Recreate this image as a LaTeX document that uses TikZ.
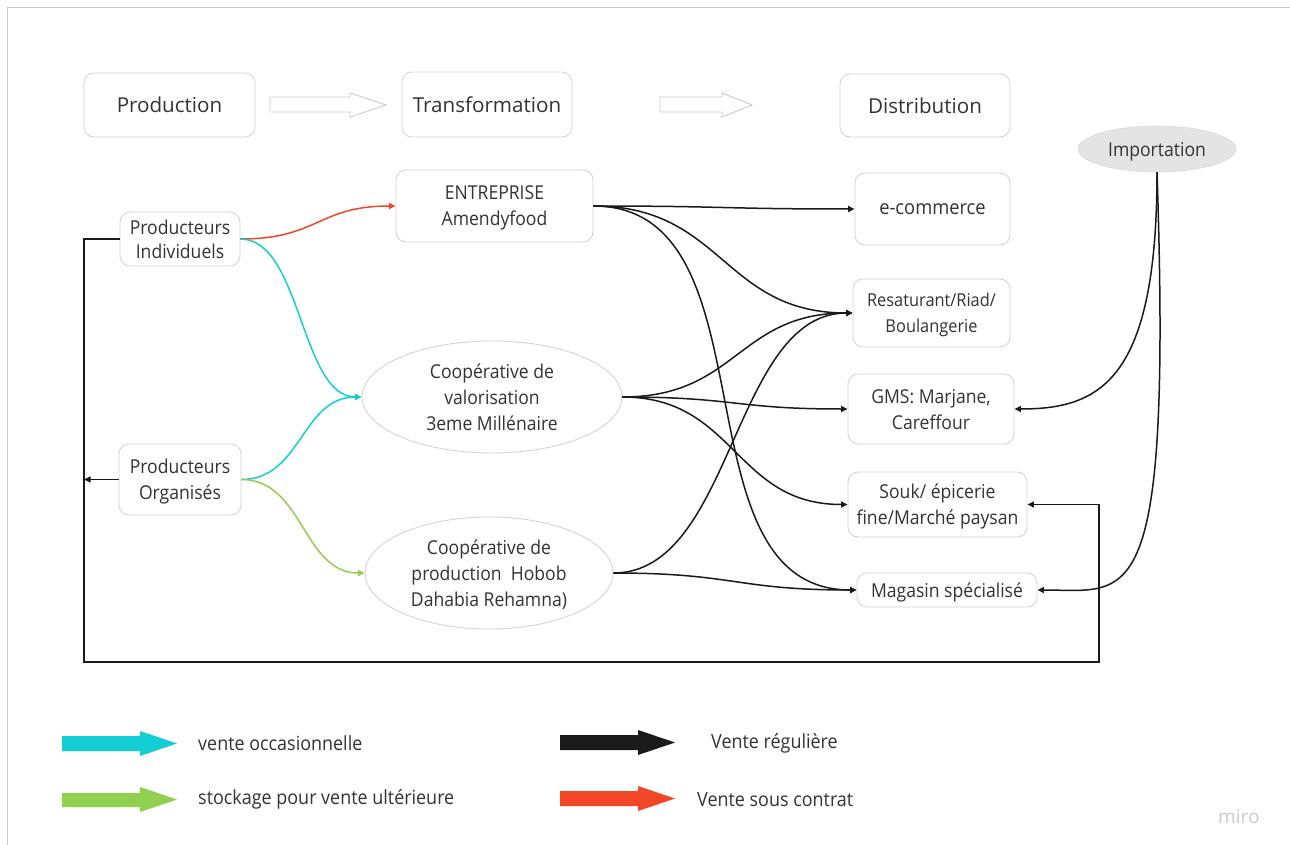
\documentclass[tikz,border=0pt]{standalone}
\usepackage{fontspec}
\setmainfont{Open Sans}
\newfontfamily\nodefont[FakeStretch=0.92]{Open Sans}
\usetikzlibrary{arrows.meta,shapes.geometric}
\definecolor{txt}{HTML}{333333}
\definecolor{bd}{HTML}{D4D4D4}
\definecolor{lk}{HTML}{1A1A1A}
\definecolor{ccyan}{HTML}{12CDD4}
\definecolor{cgreen}{HTML}{8FD14F}
\definecolor{cred}{HTML}{F24726}
\definecolor{cblack}{HTML}{1A1A1A}
\definecolor{frame}{HTML}{CACACA}
\definecolor{impfill}{HTML}{E4E4E4}
\begin{document}
\begin{tikzpicture}[x=1pt,y=-1pt,
  box/.style={draw=bd, line width=0.9pt, rounded corners=10pt, fill=white, text=txt, align=center, inner sep=0pt, text depth=0pt},
  oval/.style={ellipse, draw=bd, line width=0.9pt, fill=white, text=txt, align=center, inner sep=0pt, text depth=0pt},
  fA/.style={font=\nodefont\fontsize{19.1}{26}\selectfont},
  fH/.style={font=\fontsize{20.6}{26}\selectfont},
  conn/.style={draw=lk, line width=1.5pt, -{Triangle[length=6.5pt,width=6pt]}},
  hollow/.style={draw=frame, line width=0.9pt, fill=white},
  legtxt/.style={anchor=west, text=txt, inner sep=0pt, font=\nodefont\fontsize{19.5}{22}\selectfont}]
\useasboundingbox (0,0) rectangle (1290,845);
\fill[white] (0,0) rectangle (1290,845);
\draw[frame, line width=1pt] (7,845) -- (7,8) -- (1290,8);

% header
\node[box, fH, minimum width=171pt, minimum height=64pt] (hprod) at (169.5,105) {Production};
\node[box, fH, minimum width=170pt, minimum height=65pt] (htrans) at (487,104.5) {Transformation};
\node[box, fH, minimum width=170pt, minimum height=63pt] (hdist) at (925,105.5) {Distribution};
\draw[hollow] (270,97) -- (350,97) -- (350,93) -- (386,105) -- (350,117) -- (350,112) -- (270,112) -- cycle;
\draw[hollow] (660,97) -- (722,97) -- (722,93) -- (752,105) -- (722,117) -- (722,112) -- (660,112) -- cycle;

% nodes
\node[ellipse, draw=bd, fill=impfill, text=txt, inner sep=0pt, text depth=0pt, minimum width=158pt, minimum height=46pt, fA] (imp) at (1157,149) {Importation};
\node[box, fA, minimum width=197pt, minimum height=72pt] (ent) at (494.5,206) {ENTREPRISE\\Amendyfood};
\node[box, minimum width=120pt, minimum height=54pt, font=\nodefont\fontsize{19.1}{24}\selectfont] (ind) at (180,239) {Producteurs\\Individuels};
\node[box, fA, minimum width=122pt, minimum height=71pt] (org) at (180,479.5) {Producteurs\\Organisés};
\node[oval, fA, minimum width=260pt, minimum height=112pt] (val) at (492,397) {Coopérative de\\valorisation\\3eme Millénaire};
\node[oval, fA, minimum width=248pt, minimum height=112pt] (pco) at (489,573) {Coopérative de\\production\ \ Hobob\\Dahabia Rehamna)};
\node[box, minimum width=155pt, minimum height=72pt, font=\nodefont\fontsize{19.9}{26}\selectfont] (ecom) at (932.5,209) {e-commerce};
\node[box, minimum width=157pt, minimum height=68pt, font=\nodefont\fontsize{17.8}{26}\selectfont] (rest) at (931.5,313) {Resaturant/Riad/\\Boulangerie};
\node[box, fA, minimum width=166pt, minimum height=70pt] (gms) at (931,409) {GMS: Marjane,\\Careffour};
\node[box, fA, minimum width=179pt, minimum height=65pt] (souk) at (937.5,504.5) {Souk/ épicerie\\fine/Marché paysan};
\node[box, fA, minimum width=180pt, minimum height=34pt] (mag) at (947,590) {Magasin spécialisé};

% producer links
\draw[conn, draw=cred] (ind.east) .. controls +(78,0) and +(-78,0) .. (ent.west);
\draw[conn, draw=ccyan] (ind.east) .. controls +(61,0) and +(-61,0) .. (val.west);
\draw[conn, draw=ccyan] (org.east) .. controls +(60,0) and +(-60,0) .. (val.west);
\draw[conn, draw=cgreen] (org.east) .. controls +(62,0) and +(-62,0) .. (pco.west);

% distribution links
\draw[conn] (ent.east) .. controls +(131,0) and +(-131,0) .. (ecom.west);
\draw[conn] (ent.east) .. controls +(130,0) and +(-130,0) .. (rest.west);
\draw[conn] (ent.east) .. controls +(185,0) and +(-185,0) .. (mag.west);
\draw[conn] (val.east) .. controls +(115,0) and +(-115,0) .. (rest.west);
\draw[conn] (val.east) .. controls +(113,0) and +(-113,0) .. (gms.west);
\draw[conn] (val.east) .. controls +(113,0) and +(-113,0) .. (souk.west);
\draw[conn] (pco.east) .. controls +(120,0) and +(-120,0) .. (rest.west);
\draw[conn] (pco.east) .. controls +(122,0) and +(-122,0) .. (mag.west);

% importation
\draw[conn] (imp.south) .. controls +(0,208) and +(86,0) .. (gms.east);
\draw[conn] (imp.south) .. controls +(15,448) and +(93,0) .. (mag.east);

% loop
\coordinate (c1) at (84,662);
\coordinate (c2) at (1099,662);
\draw[conn] (ind.west) -| (c1) -- (c2) |- (souk.east);
\draw[conn] (org.west) -- (org.west -| c1);

% legend
\fill[ccyan] (62,736) -- (140,736) -- (140,731) -- (177,743.5) -- (140,756) -- (140,751) -- (62,751) -- cycle;
\fill[cgreen] (62,793) -- (140,793) -- (140,787) -- (177,799.5) -- (140,812) -- (140,807) -- (62,807) -- cycle;
\fill[cblack] (560,735) -- (638,735) -- (638,730) -- (675,742.5) -- (638,755) -- (638,750) -- (560,750) -- cycle;
\fill[cred] (560,791) -- (638,791) -- (638,786) -- (675,798.5) -- (638,811) -- (638,806) -- (560,806) -- cycle;
\node[legtxt] (l1) at (198,743) {vente occasionnelle};
\node[legtxt] (l2) at (198,799) {stockage pour vente ultérieure};
\node[legtxt] (l3) at (711,743) {Vente régulière};
\node[legtxt] (l4) at (697,800) {Vente sous contrat};
\node[anchor=west, inner sep=0pt, text=frame, font=\fontsize{19}{22}\selectfont] (miro) at (1218,817) {miro};
\end{tikzpicture}
\end{document}
